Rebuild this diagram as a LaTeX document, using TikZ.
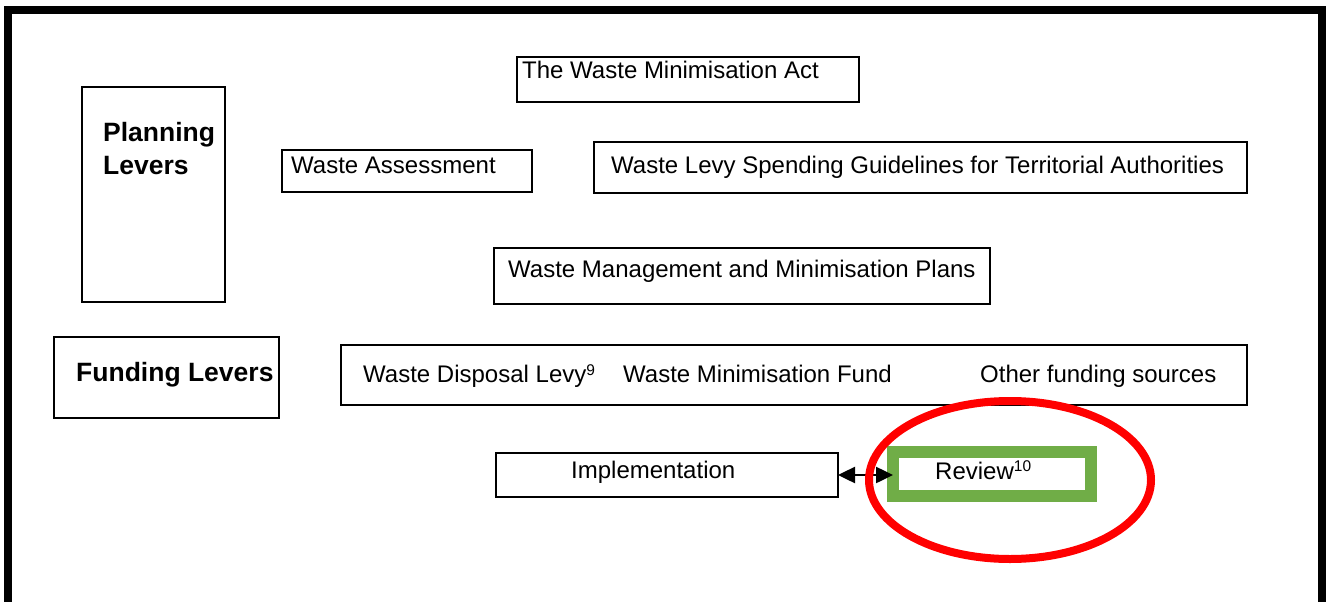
\documentclass[tikz,border=0pt]{standalone}
\usepackage{fontspec}
\setmainfont{Liberation Sans}
\usetikzlibrary{arrows.meta,shapes.geometric}

\definecolor{levergreen}{RGB}{112,173,71}
% footnote markers set as small raised figures
\newcommand{\supnum}[2]{\raisebox{#1}{\fontsize{15.5}{16}\selectfont #2}}

\tikzset{
  box/.style={draw, line width=2pt, inner sep=0pt, outer sep=0pt, anchor=north west},
  label/.style={anchor=base west, inner sep=0pt, font=\fontsize{24}{28}\selectfont},
  headlabel/.style={anchor=base west, inner sep=0pt, font=\fontsize{26.5}{31}\selectfont\bfseries},
  reviewbox/.style={draw=levergreen, line width=12pt, inner sep=0pt, outer sep=0pt, anchor=north west},
  highlight/.style={draw=red, line width=8pt, ellipse, inner sep=0pt},
  link/.style={line width=2.5pt, {Triangle[length=17pt,width=16pt]}-{Triangle[length=17pt,width=16pt]}}
}

\begin{document}
\begin{tikzpicture}[x=1pt, y=-1pt]
  \useasboundingbox (0,0) rectangle (1330,602);

  % open frame: top, left and right sides
  \draw[line width=8pt] (8,610) -- (8,10) -- (1321.5,10) -- (1321.5,610);

  % planning levers
  \node[box, minimum width=342, minimum height=45] (act) at (517,57) {};
  \node[label] (actlbl) at (522,78) {The Waste Minimisation Act};

  \node[box, minimum width=143, minimum height=215] (plan) at (82,87) {};
  \node[headlabel] (planlbl1) at (103,141) {Planning};
  \node[headlabel] (planlbl2) at (103,174) {Levers};

  \node[box, minimum width=250, minimum height=42] (assess) at (282,150) {};
  \node[label] (assesslbl) at (291,173) {Waste Assessment};

  \node[box, minimum width=653, minimum height=51] (levy) at (594,142) {};
  \node[label] (levylbl) at (611,173) {Waste Levy Spending Guidelines for Territorial Authorities};

  \node[box, minimum width=496, minimum height=56] (wmmp) at (494,248) {};
  \node[label] (wmmplbl) at (508,277) {Waste Management and Minimisation Plans};

  % funding levers
  \node[box, minimum width=225, minimum height=81] (fund) at (54,337) {};
  \node[headlabel] (fundlbl) at (76,381) {Funding Levers};

  \node[box, minimum width=906, minimum height=60] (sources) at (341,345) {};
  \node[label] (disposal) at (363,382) {Waste Disposal Levy\supnum{7pt}{9}};
  \node[label] (wmf) at (623,382) {Waste Minimisation Fund};
  \node[label] (other) at (980,382) {Other funding sources};

  % implementation and review
  \node[box, minimum width=342, minimum height=44] (impl) at (496,453) {};
  \node[label] (impllbl) at (571,478) {Implementation};

  \node[reviewbox, minimum width=198, minimum height=44] (review) at (893,452) {};
  \node[label] (reviewlbl) at (935,479) {Review\supnum{8pt}{10}};

  \draw[link] (impl.east) -- (impl.east -| review.west);

  \node[highlight, minimum width=282, minimum height=158] (ring) at (1010,480) {};
\end{tikzpicture}
\end{document}
